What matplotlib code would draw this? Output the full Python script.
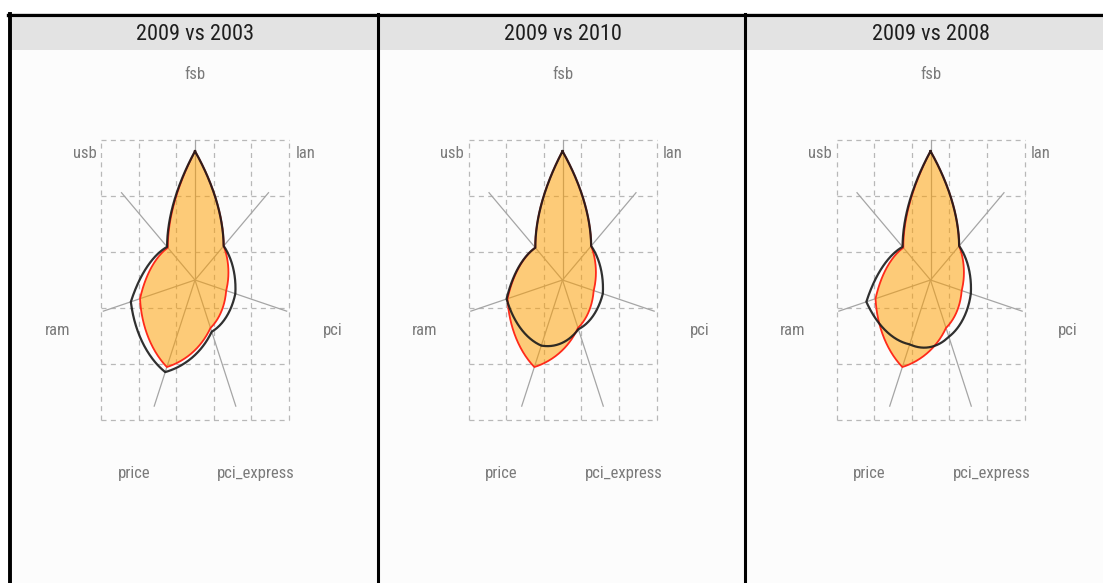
import numpy as np
import matplotlib
matplotlib.use('Agg')
import matplotlib.pyplot as plt
from matplotlib.lines import Line2D

# Data (normalised 0..1 on each spoke)
spoke_names = ['fsb', 'lan', 'pci', 'pci_express', 'price', 'ram', 'usb']
year_2009 = [0.92, 0.39, 0.34, 0.38, 0.69, 0.60, 0.37]
year_2003 = [0.92, 0.39, 0.44, 0.41, 0.73, 0.70, 0.38]
year_2010 = [0.92, 0.39, 0.44, 0.39, 0.52, 0.61, 0.37]
year_2008 = [0.92, 0.39, 0.44, 0.45, 0.51, 0.70, 0.38]
panel_titles = ['2009 vs 2003', '2009 vs 2010', '2009 vs 2008']
compare_series = [year_2003, year_2010, year_2008]

# Layout (pixels)
W, H = 1103, 583
panel_left = [11, 378, 745]
panel_width = 367
center_x = [195, 562.5, 930.5]
center_y = 280
rx, ry = 94, 140
strip_top, strip_h = 18, 32

font_list = ['Roboto Condensed', 'DejaVu Sans']

angles = np.pi / 2 - 2 * np.pi * np.arange(len(spoke_names)) / len(spoke_names)


def polar_path(vals, steps=60, p=-0.5):
    # curved edges between spokes, radius eased between the two values
    xs, ys = [], []
    n = len(vals)
    for i in range(n):
        a0, a1 = angles[i], angles[(i + 1) % n]
        if a1 > a0:
            a1 -= 2 * np.pi
        t = np.linspace(0, 1, steps, endpoint=False)
        th = a0 + (a1 - a0) * t
        r0, r1 = vals[i], vals[(i + 1) % n]
        r = (r0 ** p + (r1 ** p - r0 ** p) * t) ** (1 / p)
        xs.extend(r * np.cos(th))
        ys.extend(r * np.sin(th))
    xs.append(xs[0])
    ys.append(ys[0])
    return np.array(xs), np.array(ys)


def fig_box(left, top, width, height):
    return [left / W, 1 - (top + height) / H, width / W, height / H]


fig = plt.figure(figsize=(W / 100, H / 100), dpi=100)
fig.patch.set_facecolor('white')

grid_pos = np.array([-1, -0.6, -0.2, 0.2, 0.6, 1])

for k in range(3):
    L = panel_left[k]
    cx = center_x[k]
    top = strip_top + strip_h

    # strip header
    sax = fig.add_axes(fig_box(L, strip_top, panel_width, strip_h))
    sax.set_facecolor('#e3e3e3')
    sax.set_xlim((L - cx) / rx, (L + panel_width - cx) / rx)
    sax.set_ylim(0, 1)
    sax.set_xticks([])
    sax.set_yticks([])
    for s in sax.spines.values():
        s.set_visible(False)
    sax.text(0, 0.47, panel_titles[k], ha='center', va='center', fontsize=16,
             color='#1e1e1e', family=font_list)

    # radar panel
    ax = fig.add_axes(fig_box(L, top, panel_width, H - top))
    ax.set_facecolor('#fcfcfc')
    ax.set_xlim((L - cx) / rx, (L + panel_width - cx) / rx)
    ax.set_ylim(-(H - center_y) / ry, (center_y - top) / ry)
    ax.set_xticks([])
    ax.set_yticks([])
    for s in ax.spines.values():
        s.set_visible(False)

    ax.vlines(grid_pos, -1, 1, colors='#b8b8b8', linestyles=(0, (4, 3.5)), lw=0.9, zorder=1)
    ax.hlines(grid_pos, -1, 1, colors='#b8b8b8', linestyles=(0, (4, 3.5)), lw=0.9, zorder=1)

    for a, name in zip(angles, spoke_names):
        ax.plot([0, np.cos(a)], [0, np.sin(a)], color='#a5a5a5', lw=0.9, zorder=2)
        ax.text(1.5 * np.cos(a), 1.5 * np.sin(a) - 0.03, name, ha='center', va='center',
                fontsize=12, color='#7a7a7a', family=font_list)

    x9, y9 = polar_path(year_2009)
    ax.fill(x9, y9, color='#ff9f00', alpha=0.52, lw=0, zorder=3)
    ax.plot(x9, y9, color='#ff2a1a', lw=1.3, zorder=4)

    xc, yc = polar_path(compare_series[k])
    ax.plot(xc, yc, color='#1a1a1a', lw=1.6, alpha=0.9, zorder=5)

# frame lines
px = lambda v: v / W
py = lambda v: 1 - v / H
fig.add_artist(Line2D([px(8), px(W)], [py(15), py(15)], color='black', lw=2.4))
fig.add_artist(Line2D([px(9.5), px(9.5)], [py(13.5), py(H)], color='black', lw=2.8))
for xd in [378, 745]:
    fig.add_artist(Line2D([px(xd), px(xd)], [py(14), py(H)], color='black', lw=2.2))

fig.savefig('out.png', dpi=100)
